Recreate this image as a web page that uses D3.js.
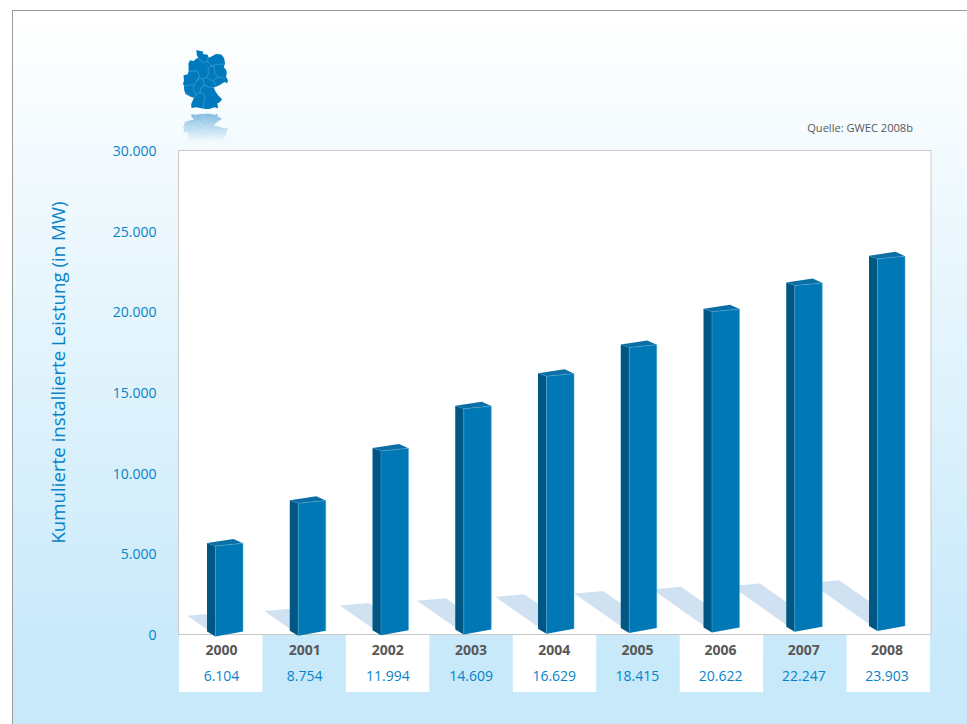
<!DOCTYPE html>
<html lang="de">
<head>
<meta charset="utf-8">
<title>Kumulierte installierte Leistung</title>
<script src="https://cdn.jsdelivr.net/npm/d3@7"></script>
<style>
  html, body { margin: 0; padding: 0; background: #fff; }
  svg { display: block; font-family: "Open Sans", "Noto Sans", sans-serif; }
</style>
</head>
<body>
<svg id="chart" width="967" height="724"></svg>
<script>
// Installed wind capacity in Germany, cumulative, in MW
const years = [2000, 2001, 2002, 2003, 2004, 2005, 2006, 2007, 2008];
const capacity = [6104, 8754, 11994, 14609, 16629, 18415, 20622, 22247, 23903];
const axisTicks = [0, 5000, 10000, 15000, 20000, 25000, 30000];

// Country outline and state borders as lon/lat, used for the small locator map
const germanyOutline = [
  [8.6,54.9],[9.4,54.8],[10.0,54.7],[9.9,54.45],[10.9,54.35],[11.1,54.0],[11.9,54.2],[12.4,54.4],
  [13.0,54.45],[13.7,54.35],[14.2,53.95],[14.4,53.3],[14.15,52.85],[14.65,52.5],[14.75,52.05],
  [14.6,51.7],[15.0,51.2],[14.8,50.85],[14.3,51.0],[13.5,50.7],[12.6,50.4],[12.1,50.3],[12.5,49.75],
  [13.0,49.3],[13.8,48.75],[13.4,48.4],[12.85,48.2],[13.0,47.55],[12.25,47.7],[11.2,47.45],
  [10.45,47.45],[9.6,47.55],[8.6,47.7],[7.6,47.58],[7.55,48.1],[8.1,48.95],[7.2,49.15],[6.4,49.45],
  [6.15,49.95],[6.1,50.5],[5.9,50.8],[6.1,51.2],[6.0,51.85],[6.8,51.95],[7.05,52.4],[7.0,53.3],
  [7.3,53.7],[8.1,53.6],[8.6,53.9],[9.0,53.95],[8.7,54.3],[8.6,54.9]
];
const stateBorders = [
  [[10.0,47.55],[10.1,48.4],[10.4,48.9],[10.1,49.5],[9.3,49.7]],
  [[9.3,49.7],[9.5,50.25],[10.2,50.55],[11.2,50.35],[12.1,50.3]],
  [[8.2,48.97],[8.5,49.4],[9.0,49.5],[9.3,49.7]],
  [[8.5,49.4],[8.0,50.0],[8.1,50.6],[8.6,51.0],[9.1,51.5],[9.9,51.4],[10.1,50.9],[10.2,50.55]],
  [[6.1,50.5],[7.2,50.6],[8.1,50.7]],
  [[6.4,49.45],[6.8,49.6],[7.3,49.2]],
  [[7.05,52.3],[8.3,52.4],[8.9,52.4],[9.2,51.7],[8.6,51.0]],
  [[9.9,51.4],[10.6,51.6],[11.0,52.0],[11.0,52.8],[11.6,53.05]],
  [[10.6,51.6],[11.4,51.3],[12.2,51.1],[12.6,50.4]],
  [[12.2,51.3],[13.0,51.6],[14.6,51.5]],
  [[13.0,51.6],[12.3,52.2],[12.2,52.9],[11.6,53.05]],
  [[10.9,53.5],[11.6,53.05],[12.9,53.2],[14.3,53.25]],
  [[8.9,53.9],[10.0,53.45],[10.9,53.5],[10.9,54.0]]
];

const de = d3.formatLocale({ decimal: ",", thousands: ".", grouping: [3], currency: ["", ""] });
const fmt = de.format(",d");

const BLUE_TEXT = "#0683c8";
const GREY_TEXT = "#585858";

const svg = d3.select("#chart");
const defs = svg.append("defs");

const bg = defs.append("linearGradient").attr("id", "panelFill")
  .attr("x1", 0).attr("y1", 0).attr("x2", 0).attr("y2", 1);
bg.append("stop").attr("offset", "0%").attr("stop-color", "#ffffff");
bg.append("stop").attr("offset", "90%").attr("stop-color", "#c7e9fa");
bg.append("stop").attr("offset", "100%").attr("stop-color", "#c7e9fa");

const fade = defs.append("linearGradient").attr("id", "mirrorFade")
  .attr("gradientUnits", "userSpaceOnUse").attr("x1", 0).attr("x2", 0).attr("y1", 112).attr("y2", 142);
fade.append("stop").attr("offset", "0%").attr("stop-color", "#fff").attr("stop-opacity", 0.5);
fade.append("stop").attr("offset", "100%").attr("stop-color", "#fff").attr("stop-opacity", 0);
defs.append("mask").attr("id", "mirrorMask").attr("maskUnits", "userSpaceOnUse")
  .attr("x", 170).attr("y", 105).attr("width", 80).attr("height", 45)
  .append("rect").attr("x", 170).attr("y", 105).attr("width", 80).attr("height", 45)
  .attr("fill", "url(#mirrorFade)");

// Outer panel: hairline on the top and left, running off the right and bottom
svg.append("rect").attr("x", 12.5).attr("y", 10.5).attr("width", 970).attr("height", 730)
  .attr("fill", "url(#panelFill)").attr("stroke", "#9a9a9a").attr("stroke-width", 1);

// Scales
const plot = { left: 178.5, right: 931, top: 150.5, bottom: 634.5 };
const y = d3.scaleLinear().domain([0, 30000]).range([plot.bottom, plot.top]);
const band = d3.scaleBand().domain(years).range([179, 930]);
const labelX = d3.scalePoint().domain(years).range([221.5, 887]);
const barX = d3.scalePoint().domain(years).range([207, 869]);
const groundFront = d3.scaleLinear().domain([2000, 2008]).range([636.5, 631]);
const shadowRun = d3.scaleLinear().domain([0, 24000]).range([6, 59]);

const SIDE = 8.5, FRONT = 27.5, LIFT = 10;
const SHADOW_SLOPE = 0.7, SHADOW_WIDE = 29;

// Plot frame
svg.append("rect").attr("x", plot.left).attr("y", plot.top)
  .attr("width", plot.right - plot.left).attr("height", plot.bottom - plot.top)
  .attr("fill", "#fff").attr("stroke", "#c9c9c9").attr("stroke-width", 1);

// Table under the plot, alternating white and panel colour
const rows = d3.zip(years, capacity);
svg.append("g").selectAll("rect").data(rows.filter((d, i) => i % 2 === 0)).join("rect")
  .attr("x", d => band(d[0])).attr("y", plot.bottom + 0.5)
  .attr("width", band.bandwidth()).attr("height", 57).attr("fill", "#fff");

svg.append("g").selectAll("text").data(rows).join("text")
  .attr("x", d => labelX(d[0])).attr("y", 654.5)
  .attr("text-anchor", "middle").attr("font-size", 14).attr("font-weight", 700)
  .attr("fill", GREY_TEXT).text(d => d[0]);

svg.append("g").selectAll("text").data(rows).join("text")
  .attr("x", d => labelX(d[0])).attr("y", 681)
  .attr("text-anchor", "middle").attr("font-size", 14)
  .attr("fill", BLUE_TEXT).text(d => fmt(d[1]));

// Cast shadows go first so each bar hides the tip of the next one's shadow
const poly = pts => pts.map(p => p.join(",")).join(" ");
svg.append("g").selectAll("polygon").data(rows).join("polygon")
  .attr("fill", "#d0e1f2")
  .attr("points", ([yr, v]) => {
    const x0 = barX(yr), g = groundFront(yr) - 7;
    const run = shadowRun(v);
    const tip = [x0 - run, g - run * SHADOW_SLOPE];
    return poly([
      tip,
      [tip[0] + SHADOW_WIDE, tip[1] - 2.5],
      [x0 + SHADOW_WIDE, g - 2.5],
      [x0, g]
    ]);
  });

// Extruded bars
const bars = svg.append("g").selectAll("g").data(rows).join("g");

bars.append("polygon").attr("fill", "#005784")
  .attr("points", ([yr, v]) => {
    const x0 = barX(yr), top = y(v) + LIFT, g = groundFront(yr);
    return poly([[x0, top - 3], [x0 + SIDE, top], [x0 + SIDE, g], [x0, g - 5]]);
  });

bars.append("polygon").attr("fill", "#0078b5")
  .attr("points", ([yr, v]) => {
    const x0 = barX(yr) + SIDE, top = y(v) + LIFT, g = groundFront(yr);
    return poly([[x0, top], [x0 + FRONT, top - 2.7], [x0 + FRONT, g - 5], [x0, g]]);
  });

bars.append("polygon").attr("fill", "#0b6fa6")
  .attr("points", ([yr, v]) => {
    const x0 = barX(yr), top = y(v) + LIFT;
    return poly([[x0, top - 3], [x0 + 26.5, top - 7], [x0 + SIDE + FRONT, top - 2.7], [x0 + SIDE, top]]);
  });

// Pale highlight along the front face edges
bars.append("polyline").attr("fill", "none").attr("stroke", "#4fa9d8")
  .attr("stroke-width", 0.5)
  .attr("points", ([yr, v]) => {
    const x0 = barX(yr) + SIDE, top = y(v) + LIFT, g = groundFront(yr);
    return poly([[x0, g], [x0, top], [x0 + FRONT, top - 2.7], [x0 + FRONT, g - 5]]);
  });

// Value axis
const yAxis = d3.axisLeft(y).tickValues(axisTicks).tickSize(0).tickPadding(22).tickFormat(fmt);
const axisG = svg.append("g").attr("transform", `translate(${plot.left},0)`).call(yAxis);
axisG.attr("font-family", null);
axisG.select(".domain").remove();
axisG.selectAll("text").attr("font-size", 14).attr("dy", "0.36em").attr("fill", BLUE_TEXT);

svg.append("text")
  .attr("transform", "translate(65,372.5) rotate(-90)")
  .attr("text-anchor", "middle").attr("font-size", 18.7).attr("fill", BLUE_TEXT)
  .text("Kumulierte installierte Leistung (in MW)");

svg.append("text").attr("x", 913).attr("y", 132)
  .attr("text-anchor", "end").attr("font-size", 11.1).attr("fill", GREY_TEXT)
  .text("Quelle: GWEC 2008b");

// Locator map with its mirrored reflection
const country = { type: "Polygon", coordinates: [germanyOutline] };
const borders = { type: "MultiLineString", coordinates: stateBorders };
const projection = d3.geoMercator().fitExtent([[183, 49], [228, 110]], country);
const geo = d3.geoPath(projection);

function drawMap(g) {
  g.append("path").attr("d", geo(country)).attr("fill", "#0079bd");
  g.append("path").attr("d", geo(borders)).attr("fill", "none")
    .attr("stroke", "#5cb0e0").attr("stroke-width", 0.5);
}
svg.append("g").call(drawMap);
svg.append("g").attr("mask", "url(#mirrorMask)")
  .append("g").attr("transform", "translate(0,112) scale(1,-0.55) translate(0,-112)")
  .call(drawMap);
</script>
</body>
</html>
